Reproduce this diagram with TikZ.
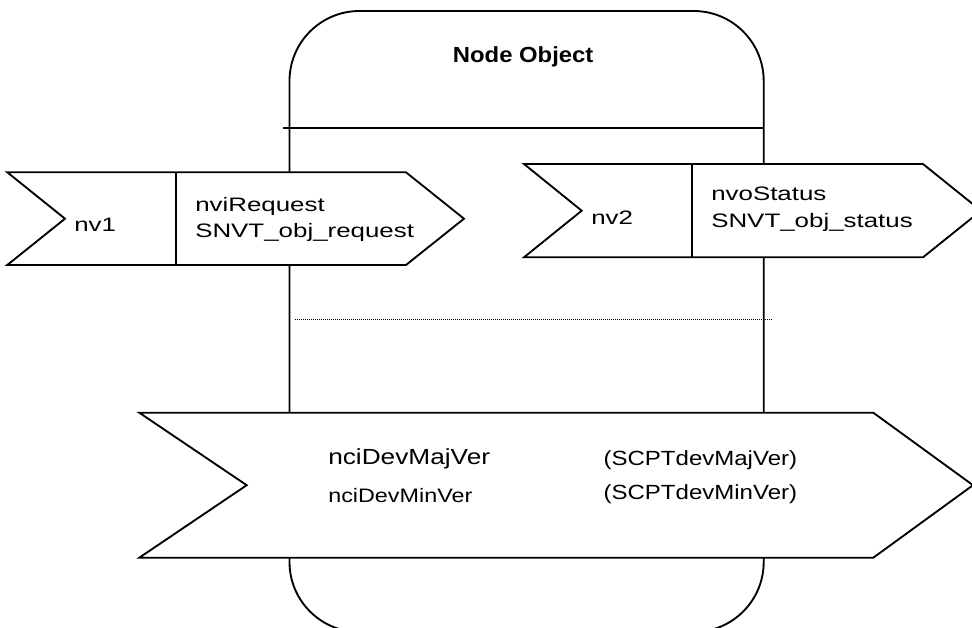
\documentclass[tikz,border=0pt]{standalone}
\usepackage{fontspec}
\setmainfont{Liberation Sans}
\newfontfamily\nvfont[FakeStretch=1.33]{Liberation Sans}
\newfontfamily\ncifont[FakeStretch=1.2]{Liberation Sans}
\newfontfamily\scptfont[FakeStretch=1.17]{Liberation Sans}
\newfontfamily\titlefont[FakeStretch=1.09]{Liberation Sans}
\begin{document}
\begin{tikzpicture}[x=0.75pt,y=-0.75pt,
  outline/.style={draw=black,line width=1.4pt,line join=miter},
  flag/.style={outline,fill=white},
  label/.style={anchor=base west,inner sep=0pt,text=black},
  nvtext/.style={label,font=\nvfont\fontsize{14.6pt}{17pt}\selectfont},
]
\useasboundingbox (0,0) rectangle (972,628);
\clip (0,0) rectangle (972,628);

% node object body
\draw[outline,rounded corners=52.5pt] (289.5,11) rectangle (763.7,632);
\draw[outline] (283,128) -- (763.7,128);
\draw[line width=0.75pt,dash pattern=on 0.75pt off 0.75pt] (295,319.5) -- (773,319.5);
\node[label,font=\titlefont\bfseries\fontsize{16.4pt}{19pt}\selectfont] (title) at (452.7,62.3) {Node Object};

% input network variable
\draw[flag] (7.3,172.3) -- (406,172.3) -- (464,218.7) -- (406,265) -- (7.3,265) -- (65,218.7) -- cycle;
\draw[outline] (175.7,172.3) -- (175.7,265);
\node[nvtext] (nv1) at (74,231.7) {nv1};
\node[nvtext] (nvi) at (195,211.7) {nviRequest};
\node[nvtext] (nvitype) at (195,237.5) {SNVT\_obj\_request};

% output network variable
\draw[flag] (524,164) -- (923,164) -- (981,210.7) -- (923,257.3) -- (524,257.3) -- (581.7,210.7) -- cycle;
\draw[outline] (691.7,164) -- (691.7,257.3);
\node[nvtext] (nv2) at (591,224) {nv2};
\node[nvtext] (nvo) at (711,200.5) {nvoStatus};
\node[nvtext] (nvotype) at (711,227) {SNVT\_obj\_status};

% configuration properties
\draw[flag] (139.3,412.7) -- (873.3,412.7) -- (973,485.2) -- (873.3,557.7) -- (139.3,557.7) -- (246.7,485.2) -- cycle;
\node[label,font=\ncifont\fontsize{16.4pt}{19pt}\selectfont] (maj) at (328,464.5) {nciDevMajVer};
\node[label,font=\ncifont\fontsize{14.6pt}{17pt}\selectfont] (min) at (328,502) {nciDevMinVer};
\node[label,font=\scptfont\fontsize{15.4pt}{18pt}\selectfont] (majtype) at (603.3,465) {(SCPTdevMajVer)};
\node[label,font=\scptfont\fontsize{15.4pt}{18pt}\selectfont] (mintype) at (603.3,499) {(SCPTdevMinVer)};
\end{tikzpicture}
\end{document}
